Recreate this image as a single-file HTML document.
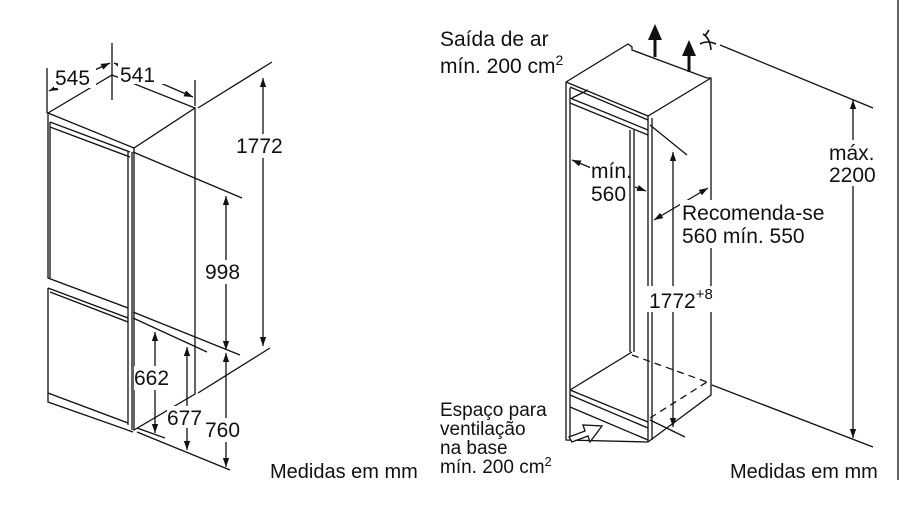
<!DOCTYPE html>
<html><head><meta charset="utf-8"><style>
html,body{margin:0;padding:0;background:#fff;}
svg{display:block}
text{font-family:"Liberation Sans",Arial,sans-serif;fill:#111;}
</style></head><body>
<svg width="900" height="506" viewBox="0 0 900 506" xmlns="http://www.w3.org/2000/svg">
<defs>
<marker id="a" viewBox="0 0 10 10" refX="10" refY="5" markerWidth="9" markerHeight="9" orient="auto-start-reverse" markerUnits="userSpaceOnUse"><path d="M0,1.5 L10,5 L0,8.5 Z" fill="#111"/></marker>
</defs>
<g stroke="#111" stroke-width="1.3" fill="none">
<path d="M48,113 L112,75 L195,108 L134,148 Z"/>
<path d="M195,108 L195,394 L134,430 L134,148"/>
<path d="M48,113 L48,122"/>
<path d="M50,122 L130,152 M50,127 L130,157"/>
<path d="M48,122 L48,278 L128,308 M50,278 L50,122"/>
<path d="M48,288 L128,318 M48,288 L48,393 L128,423 M50,292 L128,322"/>
<path d="M48,393 L48,402 L133,432"/>
<path d="M128,152 L128,425 M132,152 L132,430"/>
<path d="M47,68 L47,113 M112,43 L112,100 M195,80 L195,106"/>
<path d="M198,108 L272,62 M198,393 L270,348"/>
<path d="M133,152 L242,198 M133,312 L240,355 M133,318 L207,352 M137,432 L230,470 M137,428 L165,438"/>
</g>
<g stroke="#111" stroke-width="1.3" fill="none">
<path d="M49,91 L110,63" marker-start="url(#a)" marker-end="url(#a)"/>
<path d="M114,63 L193,97" marker-start="url(#a)" marker-end="url(#a)"/>
<path d="M263,78 L263,346" marker-start="url(#a)" marker-end="url(#a)"/>
<path d="M226,196 L226,350" marker-start="url(#a)" marker-end="url(#a)"/>
<path d="M226,353 L226,467" marker-start="url(#a)" marker-end="url(#a)"/>
<path d="M187,347 L187,450" marker-start="url(#a)" marker-end="url(#a)"/>
<path d="M155,332 L155,433" marker-start="url(#a)" marker-end="url(#a)"/>
</g>
<g fill="#fff" stroke="none">
<rect x="54" y="66" width="42" height="22"/><rect x="118" y="62" width="50" height="22"/>
<rect x="235" y="134" width="52" height="24"/><rect x="205" y="260" width="42" height="24"/>
<rect x="205" y="418" width="42" height="24"/><rect x="134" y="366" width="42" height="24"/>
<rect x="167" y="406" width="42" height="22"/>
</g>
<g font-size="21">
<text x="55" y="85">545</text>
<text x="120" y="82">541</text>
<text x="236" y="153">1772</text>
<text x="205" y="279">998</text>
<text x="205" y="437">760</text>
<text x="134" y="385">662</text>
<text x="167" y="425">677</text>
<text x="270" y="478" font-size="20">Medidas em mm</text>
</g>

<g stroke="#111" stroke-width="1.3" fill="none">
<path d="M566,82 L628,44 L632,47 L632,50 L707,78 L711,78 L711,395 L648,442"/>
<path d="M566,82 L648,116 L711,78"/>
<path d="M566,82 L566,440 L648,442 M570,88 L570,437"/>
<path d="M648,116 L648,442 M652,118 L652,440"/>
<path d="M570,87 L648,120 M570,98 L648,130 M570,103 L648,135 M572,98 L588,90"/>
<path d="M630,130 L630,352 M634,130 L634,352"/>
<path d="M570,390 L632,352 M570,390 L648,422 M570,395 L648,428 M570,407 L648,440"/>
<path d="M650,125 L687,155 M650,420 L685,437"/>
<path d="M720,45 L873,108 M712,385 L873,447"/>
<path d="M898,0 L898,480"/>
<path d="M632,355 L707,382 M650,418 L707,382" stroke-dasharray="7,5"/>
<path d="M703,34 Q710,38 711,50 M700,44 Q707,40 716,44 M705,36 L709,30" stroke-width="1.6"/>
</g>
<path d="M569,437 L585,431 L583,425 L602,426 L590,442 L588,436 L572,442 Z" fill="#fff" stroke="#111" stroke-width="1.3"/>
<g stroke="#111" stroke-width="1.3" fill="none">
<path d="M673,152 L673,427" marker-start="url(#a)" marker-end="url(#a)"/>
<path d="M853,100 L853,438" marker-start="url(#a)" marker-end="url(#a)"/>
<path d="M654,220 L708,188" marker-start="url(#a)" marker-end="url(#a)"/>
<path d="M596,170 L572,160" marker-end="url(#a)"/>
<path d="M635,187 L646,191" marker-end="url(#a)"/>
</g>
<g stroke="#111" stroke-width="3" fill="none">
<path d="M655,57 L655,36 M689,72 L689,52"/>
</g>
<path d="M648,40 L655,24 L662,40 Z M682,56 L689,40 L696,56 Z" fill="#111"/>
<g fill="#fff"><rect x="680" y="200" width="152" height="48"/><rect x="640" y="286" width="72" height="26"/><rect x="828" y="140" width="56" height="46"/><rect x="590" y="160" width="38" height="42"/></g>
<g font-size="21">
<text x="440" y="46">Saída de ar</text>
<text x="440" y="73">mín. 200 cm<tspan font-size="14" dy="-8">2</tspan></text>
<text x="591" y="178">mín.</text>
<text x="591" y="201">560</text>
<text x="682" y="220">Recomenda-se</text>
<text x="682" y="243">560 mín. 550</text>
<text x="649" y="308">1772<tspan font-size="15" dy="-9">+8</tspan></text>
<text x="829" y="160">máx.</text>
<text x="829" y="182">2200</text>
<text x="440" y="416" font-size="19">Espaço para</text>
<text x="440" y="435" font-size="19">ventilação</text>
<text x="440" y="454" font-size="19">na base</text>
<text x="440" y="473" font-size="19">mín. 200 cm<tspan font-size="13" dy="-7">2</tspan></text>
<text x="730" y="478" font-size="20">Medidas em mm</text>
</g>
</svg>
</body></html>
